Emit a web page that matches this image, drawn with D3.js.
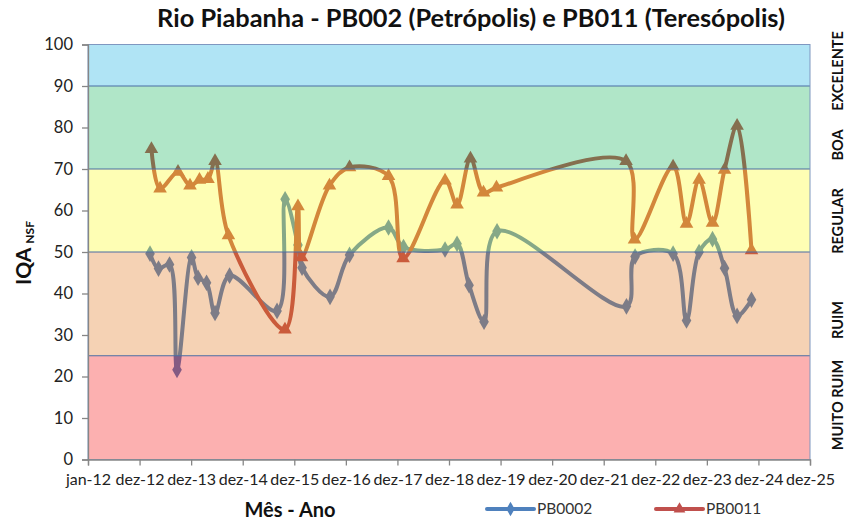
<!DOCTYPE html>
<meta charset="utf-8">
<style>
body { margin: 0; background: #fff; }
text { font-family: Lato, "Liberation Sans", sans-serif; }
</style>
<svg></svg>
<script src="https://d3js.org/d3.v7.min.js"></script>
<script>

// PB0002 (Petrópolis)
var datesPB0002 = ["2013-03-15","2013-05-14","2013-07-31","2013-09-22","2014-01-03","2014-02-18",
  "2014-04-19","2014-06-18","2014-09-29","2015-08-31","2015-10-27","2016-01-26","2016-02-24",
  "2016-09-09","2017-01-25","2017-10-28","2018-02-11","2018-12-02","2019-02-25","2019-05-21",
  "2019-09-04","2019-12-05","2022-06-08","2022-08-08","2023-05-04","2023-08-07","2023-11-04",
  "2024-02-07","2024-05-02","2024-07-30","2024-11-09"];
var valuesPB0002 = [49.6, 46, 47, 21.6, 48.7, 43.8, 42.6, 35.3, 44.3, 35.8, 62.7, 51.7, 46.2,
  39.2, 49.3, 55.9, 51.2, 50.6, 52, 42, 33.2, 55, 36.9, 48.9, 49.6, 33.5, 50, 53.1, 46.1, 34.6, 38.5];

// PB0011 (Teresópolis)
var datesPB0011 = ["2013-03-25","2013-05-25","2013-09-29","2013-12-23","2014-02-28","2014-04-29",
  "2014-06-18","2014-09-21","2015-10-26","2016-01-26","2016-02-20","2016-09-05","2017-01-25",
  "2017-10-28","2018-02-08","2018-12-02","2019-02-25","2019-05-31","2019-08-31","2019-12-01",
  "2022-06-05","2022-08-04","2023-05-04","2023-08-07","2023-11-04","2024-02-07","2024-05-02",
  "2024-07-30","2024-11-09"];
var valuesPB0011 = [74.8, 65.3, 69.3, 66, 67.4, 67.6, 71.9, 54, 31.3, 61, 48.7, 66, 70.4,
  68.3, 48.5, 67.2, 61.4, 72.5, 64.3, 65.5, 71.9, 53, 70.6, 56.8, 67.4, 57, 69.8, 80.4, 50.4];

var seriesNames = ["PB0002", "PB0011"];

// quality classes
var bandLimits = [0, 25, 50, 70, 90, 100];
var bandNames = ["MUITO RUIM", "RUIM", "REGULAR", "BOA", "EXCELENTE"];

var yTicks = [0, 10, 20, 30, 40, 50, 60, 70, 80, 90, 100];
var xTickLabels = ["jan-12","dez-12","dez-13","dez-14","dez-15","dez-16","dez-17","dez-18",
  "dez-19","dez-20","dez-21","dez-22","dez-23","dez-24","dez-25"];

var width = 845, height = 521;
var plotLeft = 88, plotRight = 810, plotTop = 44.5, plotBottom = 459.5;

var parse = d3.timeParse("%Y-%m-%d");
var start = new Date(2012, 0, 1);

var x = d3.scaleTime()
    .domain([start, d3.timeDay.offset(start, 365 * (xTickLabels.length - 1))])
    .range([plotLeft, plotRight]);

var y = d3.scaleLinear()
    .domain([0, 100])
    .range([plotBottom, plotTop]);

var svg = d3.select("svg")
    .attr("width", width)
    .attr("height", height);

// plot background
svg.append("rect")
    .attr("x", plotLeft).attr("y", plotTop)
    .attr("width", plotRight - plotLeft).attr("height", plotBottom - plotTop)
    .attr("fill", "#fff");

var lineColors = ["#4F81BD", "#C0504D"];

var line = d3.line()
    .x(function(d) { return x(d.date); })
    .y(function(d) { return y(d.value); })
    .curve(d3.curveCatmullRom.alpha(0.5));

var series = [
  datesPB0002.map(function(d, i) { return {date: parse(d), value: valuesPB0002[i]}; }),
  datesPB0011.map(function(d, i) { return {date: parse(d), value: valuesPB0011[i]}; })
];

var lines = svg.append("g");

series.forEach(function(s, k) {
  lines.append("path")
      .datum(s)
      .attr("d", line)
      .attr("fill", "none")
      .attr("stroke", lineColors[k])
      .attr("stroke-width", 4)
      .attr("stroke-linejoin", "round");

  var sym = k == 0 ? d3.symbol().type(d3.symbolDiamond).size(80)
                   : d3.symbol().type(d3.symbolTriangle).size(80);
  lines.selectAll(null)
      .data(s)
      .enter().append("path")
      .attr("d", sym)
      .attr("transform", function(d) { return "translate(" + x(d.date) + "," + y(d.value) + ")"; })
      .attr("fill", lineColors[k]);
});

// translucent class bands laid over the lines (like the stacked areas in the original)
var bandColors = ["#F60808", "#E07215", "#FCFC15", "#08B153", "#08ABE0"];
svg.append("g").selectAll("rect")
    .data(bandNames)
    .enter().append("rect")
    .attr("x", plotLeft)
    .attr("width", plotRight - plotLeft)
    .attr("y", function(d, i) { return y(bandLimits[i + 1]); })
    .attr("height", function(d, i) { return y(bandLimits[i]) - y(bandLimits[i + 1]); })
    .attr("fill", function(d, i) { return bandColors[i]; })
    .attr("fill-opacity", 0.32);

// band borders
svg.append("g").selectAll("line")
    .data(bandLimits.slice(1, -1))
    .enter().append("line")
    .attr("x1", plotLeft).attr("x2", plotRight)
    .attr("y1", function(d) { return y(d); })
    .attr("y2", function(d) { return y(d); })
    .attr("stroke", "#4A6CA3")
    .attr("stroke-width", 1);

svg.append("rect")
    .attr("x", plotLeft).attr("y", plotTop)
    .attr("width", plotRight - plotLeft).attr("height", plotBottom - plotTop)
    .attr("fill", "none")
    .attr("stroke", "#7F97C0")
    .attr("stroke-width", 1);

// axes
var yAxis = svg.append("g")
    .attr("transform", "translate(" + plotLeft + ",0)")
    .call(d3.axisLeft(y).tickValues(yTicks).tickSize(6).tickPadding(9));

var xAxis = svg.append("g")
    .attr("transform", "translate(0," + plotBottom + ")")
    .call(d3.axisBottom(x)
      .tickValues(xTickLabels.map(function(d, i) { return d3.timeDay.offset(start, 365 * i); }))
      .tickFormat(function(d, i) { return xTickLabels[i]; })
      .tickSize(6).tickPadding(6));

[xAxis, yAxis].forEach(function(a) {
  a.select(".domain").attr("stroke", "#868686").attr("stroke-width", 1.3);
  a.selectAll(".tick line").attr("stroke", "#868686").attr("stroke-width", 1.3);
  a.selectAll(".tick text")
      .attr("fill", "#222")
      .style("font-family", "Lato, sans-serif");
});
yAxis.selectAll(".tick text").style("font-size", "16.5px");
xAxis.selectAll(".tick text").style("font-size", "16px").attr("dy", "0.85em");

// title
var title = svg.append("text")
    .attr("x", 471)
    .attr("y", 27)
    .attr("text-anchor", "middle")
    .style("font-weight", "bold")
    .style("font-size", "21px")
    .attr("fill", "#111")
    .text("Rio Piabanha  - PB002 (Petrópolis) e PB011 (Teresópolis)");
var tw = title.node().getComputedTextLength();
title.style("font-size", (21 * 628 / tw) + "px");

// y axis title
var yt = svg.append("text")
    .attr("transform", "translate(31,253) rotate(-90)")
    .attr("text-anchor", "middle")
    .style("font-weight", "bold")
    .attr("fill", "#111");
yt.append("tspan").style("font-size", "21px").text("IQA");
yt.append("tspan").style("font-size", "12px").attr("dx", 4).attr("dy", 3).text("NSF");

// x axis title
svg.append("text")
    .attr("x", 290)
    .attr("y", 517)
    .attr("text-anchor", "middle")
    .style("font-weight", "bold")
    .style("font-size", "20px")
    .attr("fill", "#111")
    .text("Mês - Ano");

// class names on the right
var bandLabelY = [405, 320, 221, 145, 71];
svg.append("g").selectAll("text")
    .data(bandNames)
    .enter().append("text")
    .attr("transform", function(d, i) { return "translate(843," + bandLabelY[i] + ") rotate(-90)"; })
    .attr("text-anchor", "middle")
    .style("font-weight", "bold")
    .style("font-size", "14.5px")
    .attr("fill", "#111")
    .text(function(d) { return d; });

// legend
var legendX = [487, 656];
var legend = svg.append("g").selectAll("g")
    .data(seriesNames)
    .enter().append("g")
    .attr("transform", function(d, i) { return "translate(" + legendX[i] + ",509)"; });

legend.append("line")
    .attr("x1", 0).attr("x2", 47)
    .attr("stroke", function(d, i) { return lineColors[i]; })
    .attr("stroke-width", 4)
    .attr("stroke-linecap", "round");

legend.append("path")
    .attr("transform", "translate(23.5,0)")
    .attr("d", function(d, i) {
      return (i == 0 ? d3.symbol().type(d3.symbolDiamond).size(60)
                     : d3.symbol().type(d3.symbolTriangle).size(60))();
    })
    .attr("fill", function(d, i) { return lineColors[i]; });

legend.append("text")
    .attr("x", 50)
    .attr("dy", "0.35em")
    .style("font-size", "15.5px")
    .attr("fill", "#333")
    .text(function(d) { return d; });

</script>
